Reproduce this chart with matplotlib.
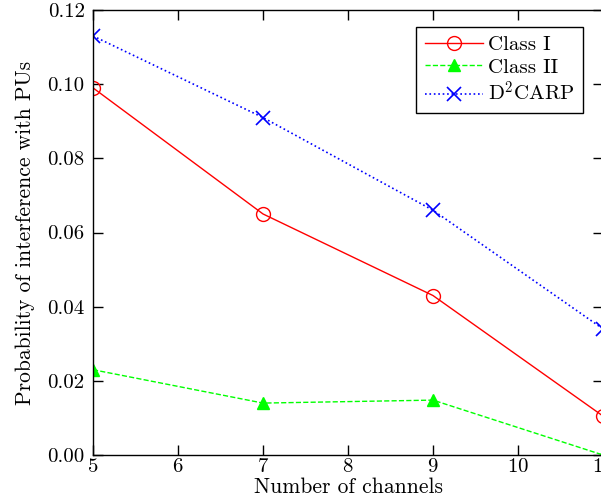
import matplotlib
matplotlib.use("Agg")
import matplotlib.pyplot as plt
from matplotlib.ticker import FormatStrFormatter, MultipleLocator

plt.rcParams['font.family'] = 'serif'
plt.rcParams['font.serif'] = ['cmr10', 'DejaVu Serif']
plt.rcParams['mathtext.fontset'] = 'cm'
plt.rcParams['axes.formatter.use_mathtext'] = True

channels = [5, 7, 9, 11]
class1 = [0.099, 0.065, 0.043, 0.0105]
class2 = [0.023, 0.014, 0.0148, 0.0]
d2carp = [0.113, 0.091, 0.066, 0.034]

fig = plt.figure(figsize=(6.01, 5.04), dpi=100)
W, H = 601, 504
ax = fig.add_axes([93 / W, (H - 455) / H, 510 / W, 445 / H])

ax.plot(channels, class1, color='#ff0000', linestyle='-', linewidth=1.0,
        marker='o', markersize=10, markerfacecolor='none', markeredgecolor='#ff0000',
        markeredgewidth=1.0, label='Class I')
ax.plot(channels, class2, color='#00ff00', linestyle='--', linewidth=1.0,
        marker='^', markersize=8, markerfacecolor='#00ff00', markeredgecolor='#00ff00',
        label='Class II')
ax.plot(channels, d2carp, color='#0000ff', linestyle=':', linewidth=1.2,
        marker='x', markersize=10, markeredgewidth=1.2, label=r'D$^2$CARP')

ax.set_xlim(5, 11)
ax.set_ylim(0, 0.12)
ax.xaxis.set_major_locator(MultipleLocator(1))
ax.yaxis.set_major_locator(MultipleLocator(0.02))
ax.yaxis.set_major_formatter(FormatStrFormatter('%.2f'))
ax.tick_params(direction='in', top=True, right=True, length=7, labelsize=15, width=1)
ax.tick_params(axis='y', pad=6)
ax.tick_params(axis='x', pad=2)
for s in ax.spines.values():
    s.set_linewidth(1.0)

ax.set_xlabel('Number of channels', fontsize=15.5, labelpad=1)
ax.set_ylabel('Probability of interference with PUs', fontsize=15.5, labelpad=9)

leg = ax.legend(loc='upper right', bbox_to_anchor=(0.961, 0.962), fontsize=15,
                frameon=True, fancybox=False, edgecolor='black', framealpha=1,
                handlelength=2.8, handletextpad=0.25, borderpad=0.4, labelspacing=0.2,
                borderaxespad=0)
leg.get_frame().set_linewidth(1.0)

fig.savefig('out.png', dpi=100)
